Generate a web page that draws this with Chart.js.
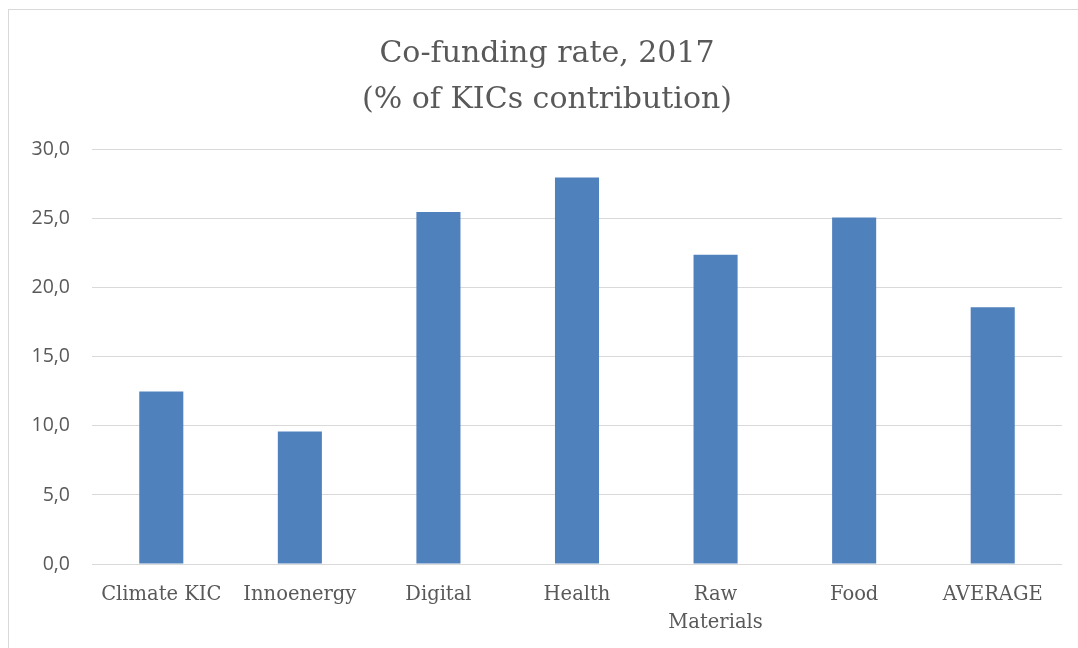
<!DOCTYPE html>
<html>
<head>
<meta charset="utf-8">
<script src="https://cdn.jsdelivr.net/npm/chart.js@4"></script>
<style>
  html, body { margin: 0; padding: 0; background: #ffffff; }
  #wrap { position: relative; width: 1078px; height: 648px; overflow: hidden; background: #ffffff; }
  #frame { position: absolute; left: 8px; top: 9px; width: 1200px; height: 800px;
           border-left: 1px solid #d9d9d9; border-top: 1px solid #d9d9d9; }
  #c { position: absolute; left: 0; top: 0; }
</style>
</head>
<body>
<div id="wrap">
  <div id="frame"></div>
  <canvas id="c" width="1078" height="648"></canvas>
</div>
<script>
const titleLines = ["Co-funding rate, 2017", "(% of KICs contribution)"];
const categories = ["Climate KIC", "Innoenergy", "Digital", "Health", ["Raw", "Materials"], "Food", "AVERAGE"];
const coFundingRate = [12.5, 9.6, 25.5, 28.0, 22.4, 25.1, 18.6];
const yTicks = [0, 5, 10, 15, 20, 25, 30];

const textGray = "#595959";
const gridGray = "#d9d9d9";

new Chart(document.getElementById("c"), {
  type: "bar",
  data: {
    labels: categories,
    datasets: [{
      label: "Co-funding rate",
      data: coFundingRate,
      backgroundColor: "#4f81bd",
      borderWidth: 0,
      barPercentage: 1.0,
      categoryPercentage: 0.318
    }]
  },
  options: {
    responsive: false,
    animation: false,
    devicePixelRatio: 1,
    layout: { padding: { left: 32, right: 16, top: 31, bottom: 12 } },
    plugins: {
      legend: { display: false },
      tooltip: { enabled: false },
      title: {
        display: true,
        text: titleLines,
        color: textGray,
        font: { family: "'DejaVu Serif', serif", size: 30, weight: "normal", lineHeight: 1.53 },
        padding: { top: 0, bottom: 27 }
      }
    },
    scales: {
      x: {
        afterFit: (scale) => { scale.height = 72; },
        grid: { display: false, drawTicks: false },
        border: { display: false },
        ticks: {
          color: textGray,
          font: { family: "'DejaVu Serif', serif", size: 19.5, lineHeight: 1.45 },
          padding: 17,
          maxRotation: 0,
          autoSkip: false
        }
      },
      y: {
        min: 0,
        max: 30,
        afterBuildTicks: (scale) => { scale.ticks = yTicks.map(v => ({ value: v })); },
        afterFit: (scale) => { scale.width = 60; },
        grid: { color: gridGray, lineWidth: 1, drawTicks: false },
        border: { display: false },
        ticks: {
          color: textGray,
          font: { family: "'Open Sans', sans-serif", size: 19.5 },
          padding: 22,
          callback: (v) => Number(v).toFixed(1).replace(".", ",")
        }
      }
    }
  }
});
</script>
</body>
</html>
